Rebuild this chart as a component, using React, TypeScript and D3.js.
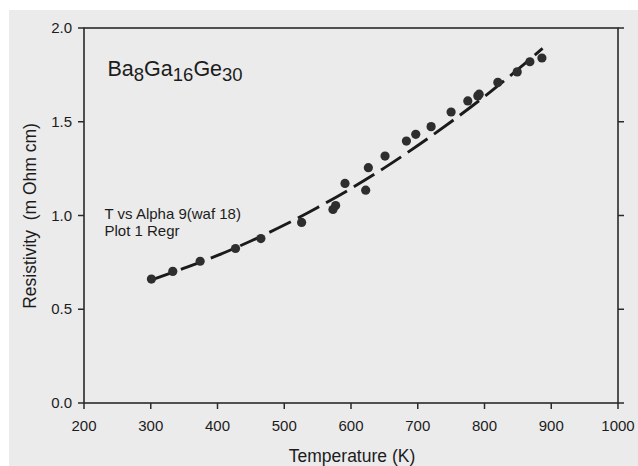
import React from "react";
import * as d3 from "d3";

const temps = [301, 333, 374, 427, 465, 526, 573, 577, 591, 622, 626, 651, 683, 697, 720, 750, 775, 790, 792, 820, 849, 868, 886];
const resist = [0.661, 0.702, 0.756, 0.824, 0.877, 0.963, 1.032, 1.053, 1.171, 1.135, 1.255, 1.317, 1.397, 1.433, 1.474, 1.552, 1.611, 1.638, 1.647, 1.71, 1.766, 1.82, 1.84];

const regrT = [300, 350, 400, 450, 500, 550, 600, 650, 700, 750, 800, 850, 887];
const regrR = [0.655, 0.719, 0.787, 0.864, 0.949, 1.043, 1.144, 1.254, 1.373, 1.5, 1.635, 1.779, 1.891];

const xTicks = [200, 300, 400, 500, 600, 700, 800, 900, 1000];
const yTicks = [0, 0.5, 1.0, 1.5, 2.0];

const FONT = "'Liberation Sans', Arial, Helvetica, sans-serif";
const INK = "#1c1c1c";

export default function App() {
  const W = 638, H = 466;
  const x = d3.scaleLinear().domain([200, 1000]).range([84, 618]);
  const y = d3.scaleLinear().domain([0, 2]).range([403, 28]);
  const pts = temps.map((t, i) => [t, resist[i]] as [number, number]);
  const regr = regrT.map((t, i) => [t, regrR[i]] as [number, number]);
  const line = d3.line<[number, number]>().x(d => x(d[0])).y(d => y(d[1])).curve(d3.curveMonotoneX);
  const [x0, x1] = x.range();
  const [yb, yt] = y.range();

  return (
    <svg width={W} height={H} style={{ position: "absolute", left: 0, top: 0 }} fontFamily={FONT}>
      <rect x={0} y={0} width={W} height={H} fill="#ffffff" />
      <rect x={9} y={10} width={W - 9} height={H - 10} fill="#ebebeb" />
      {/* frame */}
      <rect x={x0} y={yt} width={x1 - x0} height={yb - yt} fill="none" stroke="#2a2a2a" strokeWidth={1.6} />
      {yTicks.map(v => (
        <g key={"yl" + v}>
          <line x1={x0 - 6} x2={x0} y1={y(v)} y2={y(v)} stroke="#2a2a2a" strokeWidth={1.5} />
          <line x1={x1} x2={x1 + 6} y1={y(v)} y2={y(v)} stroke="#2a2a2a" strokeWidth={1.5} />
          <text x={x0 - 12} y={y(v) + 5} textAnchor="end" fontSize={15} fill={INK}>{d3.format(".1f")(v)}</text>
        </g>
      ))}
      {xTicks.map(v => (
        <g key={"xt" + v}>
          <line x1={x(v)} x2={x(v)} y1={yb} y2={yb + 6} stroke="#2a2a2a" strokeWidth={1.5} />
          <text x={x(v)} y={430.5} textAnchor="middle" fontSize={15} fill={INK}>{v}</text>
        </g>
      ))}
      <text x={352} y={462} textAnchor="middle" fontSize={17.5} fill={INK}>Temperature (K)</text>
      <text transform={`translate(35.5,216) rotate(-90)`} textAnchor="middle" fontSize={17.5} fill={INK} style={{ whiteSpace: "pre" }}>{"Resistivity  (m Ohm cm)"}</text>
      <path d={line(regr) || ""} fill="none" stroke="#1a1a1a" strokeWidth={2.9} strokeDasharray="24,8" />
      {pts.map((p, i) => (
        <circle key={i} cx={x(p[0])} cy={y(p[1])} r={4.6} fill="#2e2e2e" />
      ))}
      <text x={107.5} y={76} fill={INK} fontSize={21.5}>
        <tspan>Ba</tspan>
        <tspan fontSize={18.5} dy={4.5}>8</tspan>
        <tspan dy={-4.5}>Ga</tspan>
        <tspan fontSize={18.5} dy={4.5}>16</tspan>
        <tspan dy={-4.5}>Ge</tspan>
        <tspan fontSize={18.5} dy={4.5}>30</tspan>
      </text>
      <text x={104.5} y={218.5} fontSize={15} fill={INK}>T vs Alpha 9(waf 18)</text>
      <text x={104.5} y={236} fontSize={15} fill={INK}>Plot 1 Regr</text>
    </svg>
  );
}
